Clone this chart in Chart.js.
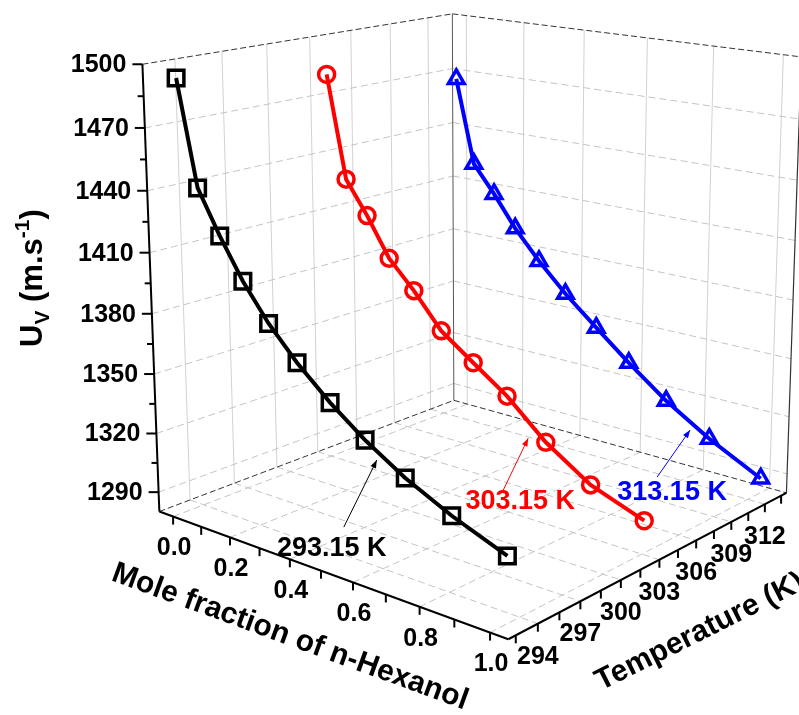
<!DOCTYPE html>
<html lang="en">
<head>
<meta charset="UTF-8">
<title>Ultrasonic velocity of n-Hexanol mixtures</title>
<script src="https://cdn.jsdelivr.net/npm/chart.js"></script>
<style>
  body { margin: 0; background: #fff; }
</style>
</head>
<body>
<canvas id="uvChart" width="799" height="715"></canvas>
<script>
// mole fraction of n-hexanol and ultrasonic velocity (m/s) at each temperature
const moleFraction = [0.000, 0.062, 0.133, 0.207, 0.289, 0.379, 0.482, 0.589, 0.709, 0.844, 1.000];
const temperatures = [293.15, 303.15, 313.15];
const uv293 = [1493.2, 1442.7, 1422.0, 1402.9, 1385.8, 1370.7, 1356.2, 1343.4, 1331.5, 1320.9, 1310.9];
const uv303 = [1481.9, 1429.9, 1413.3, 1393.7, 1380.0, 1362.8, 1350.7, 1338.3, 1320.5, 1305.7, 1296.0];
const uv313 = [1466.5, 1421.4, 1406.9, 1390.2, 1375.0, 1360.2, 1345.6, 1330.8, 1315.4, 1301.2, 1287.6];
const seriesLabels = ['293.15 K', '303.15 K', '313.15 K'];

const xTicks = [0.0, 0.2, 0.4, 0.6, 0.8, 1.0];
const tTicks = [294, 297, 300, 303, 306, 309, 312];
const zTicks = [1290, 1320, 1350, 1380, 1410, 1440, 1470, 1500];

const xRange = [-0.05, 1.05];
const tRange = [292, 314];
const zRange = [1280, 1500];

// box corners on the view plane: u, v, w (0..1 along x, T, z) -> view x, view y
const frame = [
  [0, 0, 0, 160, 512],
  [1, 0, 0, 508, 639],
  [1, 1, 0, 787, 493],
  [0, 1, 0, 453, 400],
  [0, 0, 1, 142, 64],
  [0, 1, 1, 453, 14],
  [1, 1, 1, 801, 57]
];

// least squares 3x4 perspective matrix from the corner pairs
function solveCamera(pts) {
  const n = 11;
  const M = [...Array(n)].map(() => Array(n + 1).fill(0));
  const add = (row, rhs) => {
    for (let i = 0; i < n; i++) {
      for (let j = 0; j < n; j++) M[i][j] += row[i] * row[j];
      M[i][n] += row[i] * rhs;
    }
  };
  pts.forEach(([X, Y, Z, sx, sy]) => {
    add([X, Y, Z, 1, 0, 0, 0, 0, -sx * X, -sx * Y, -sx * Z], sx);
    add([0, 0, 0, 0, X, Y, Z, 1, -sy * X, -sy * Y, -sy * Z], sy);
  });
  for (let c = 0; c < n; c++) {
    let p = c;
    for (let r = c + 1; r < n; r++) if (Math.abs(M[r][c]) > Math.abs(M[p][c])) p = r;
    [M[c], M[p]] = [M[p], M[c]];
    for (let r = 0; r < n; r++) {
      if (r === c) continue;
      const f = M[r][c] / M[c][c];
      for (let k = c; k <= n; k++) M[r][k] -= f * M[c][k];
    }
  }
  const p = M.map((row, i) => row[n] / row[i]);
  return [[p[0], p[1], p[2], p[3]], [p[4], p[5], p[6], p[7]], [p[8], p[9], p[10], 1]];
}
const cam = solveCamera(frame);

function project(x, T, z) {
  const h = [
    (x - xRange[0]) / (xRange[1] - xRange[0]),
    (T - tRange[0]) / (tRange[1] - tRange[0]),
    (z - zRange[0]) / (zRange[1] - zRange[0]), 1
  ];
  const r = cam.map(row => row[0] * h[0] + row[1] * h[1] + row[2] * h[2] + row[3] * h[3]);
  return { x: r[0] / r[2], y: r[1] / r[2] };
}

const seriesColors = ['#000000', '#ff0000', '#0000ff'];
const pointStyles = ['rect', 'circle', 'triangle'];
const pointSizes = [11, 8, 9];
const uvSeries = [uv293, uv303, uv313];

const datasets = temperatures.map((T, k) => ({
  label: seriesLabels[k],
  data: moleFraction.map((x, i) => project(x, T, uvSeries[k][i])),
  showLine: true,
  borderColor: seriesColors[k],
  borderWidth: 4,
  pointStyle: pointStyles[k],
  pointRadius: pointSizes[k],
  pointBorderWidth: 3.5,
  pointBorderColor: seriesColors[k],
  pointBackgroundColor: 'rgba(0,0,0,0)'
}));

// arrow tip sits in data space, tail and label are pixel offsets from it
const notes = [
  { T: 293.15, x: 0.624, z: 1335.7, tail: [-33, 67], text: [-45, 88] },
  { T: 303.15, x: 0.655, z: 1320.0, tail: [-25, 52], text: [-8, 63] },
  { T: 313.15, x: 0.785, z: 1303.1, tail: [-33, 47], text: [-18, 62] }
];

const FONT = '"Liberation Sans", Arial, sans-serif';

const boxPlugin = {
  id: 'box3d',
  beforeDatasetsDraw(chart) {
    const ctx = chart.ctx;
    const px = (x, T, z) => {
      const p = project(x, T, z);
      return [chart.scales.x.getPixelForValue(p.x), chart.scales.y.getPixelForValue(p.y)];
    };
    const seg = (a, b, color, width, dash) => {
      ctx.save();
      ctx.strokeStyle = color; ctx.lineWidth = width; ctx.setLineDash(dash || []);
      ctx.beginPath(); ctx.moveTo(a[0], a[1]); ctx.lineTo(b[0], b[1]); ctx.stroke();
      ctx.restore();
    };
    const [x0, x1] = xRange, [T0, T1] = tRange, [z0, z1] = zRange;
    const gridSolid = '#d2d2d2', gridDash = '#c4c4c4';

    // wall and floor grids
    tTicks.forEach(T => {
      seg(px(x0, T, z0), px(x0, T, z1), gridSolid, 1);
      seg(px(x0, T, z0), px(x1, T, z0), gridDash, 1, [7, 4]);
    });
    xTicks.forEach(x => {
      seg(px(x, T1, z0), px(x, T1, z1), gridSolid, 1);
      seg(px(x, T0, z0), px(x, T1, z0), gridDash, 1, [7, 4]);
    });
    zTicks.filter(z => z < z1).forEach(z => {
      seg(px(x0, T0, z), px(x0, T1, z), gridDash, 1, [7, 4]);
      seg(px(x0, T1, z), px(x1, T1, z), gridDash, 1, [7, 4]);
    });

    // box edges
    seg(px(x0, T0, z1), px(x0, T1, z1), '#333', 1, [6, 3]);
    seg(px(x0, T1, z1), px(x1, T1, z1), '#333', 1, [6, 3]);
    seg(px(x0, T0, z0), px(x0, T1, z0), '#333', 1, [6, 3]);
    seg(px(x0, T1, z0), px(x1, T1, z0), '#333', 1, [6, 3]);
    seg(px(x0, T1, z1), px(x0, T1, z0), '#555', 1);
    seg(px(x1, T1, z0), px(x1, T1, z1), '#333', 1.2);

    // axis lines
    seg(px(x0, T0, z0), px(x1, T0, z0), '#000', 2);
    seg(px(x1, T0, z0), px(x1, T1, z0), '#000', 2);
    seg(px(x0, T0, z0), px(x0, T0, z1), '#000', 2);

    ctx.save();
    ctx.fillStyle = '#000';
    ctx.font = 'bold 25px ' + FONT;

    // U axis ticks and labels
    for (let z = 1290; z <= z1 + 0.1; z += 15) {
      const p = px(x0, T0, z);
      const major = (z - 1290) % 30 === 0;
      seg(p, [p[0] - (major ? 10 : 6), p[1]], '#000', 2);
      if (major) {
        ctx.textAlign = 'right'; ctx.textBaseline = 'middle';
        ctx.fillText(String(z), p[0] - 16, p[1] + 1);
      }
    }
    // mole fraction ticks and labels
    for (let i = 0; i <= 10; i++) {
      const x = i / 10;
      const p = px(x, T0, z0);
      seg(p, [p[0], p[1] + 8], '#000', 2);
      if (i % 2 === 0) {
        ctx.textAlign = 'center'; ctx.textBaseline = 'middle';
        ctx.fillText(x.toFixed(1), p[0] + 1, p[1] + 32);
      }
    }
    // temperature ticks and labels
    for (let T = 292.5; T <= T1; T += 1.5) {
      const p = px(x1, T, z0);
      seg(p, [p[0], p[1] + 8], '#000', 2);
      if (tTicks.includes(T)) {
        ctx.textAlign = 'center'; ctx.textBaseline = 'middle';
        ctx.fillText(String(T), p[0], p[1] + 33);
      }
    }

    // axis titles
    const a = px(x0, T0, z0), b = px(x1, T0, z0), c = px(x1, T1, z0);
    ctx.font = 'bold 30px ' + FONT;
    ctx.textAlign = 'center'; ctx.textBaseline = 'middle';
    ctx.save();
    ctx.translate(290, 637);
    ctx.rotate(Math.atan2(b[1] - a[1], b[0] - a[0]));
    ctx.fillText('Mole fraction of n-Hexanol', 0, 0);
    ctx.restore();
    ctx.save();
    ctx.translate(700, 632);
    ctx.rotate(Math.atan2(c[1] - b[1], c[0] - b[0]) + 0.02);
    ctx.fillText('Temperature (K)', 0, 0);
    ctx.restore();

    // U_V (m.s^-1), reading upwards
    ctx.save();
    ctx.translate(42, 347);
    ctx.rotate(-Math.PI / 2);
    ctx.textAlign = 'left'; ctx.textBaseline = 'alphabetic';
    const big = 'bold 31px ' + FONT, small = 'bold 21px ' + FONT;
    let cx = 0;
    ctx.font = big; ctx.fillText('U', cx, 0); cx += ctx.measureText('U').width;
    ctx.font = small; ctx.fillText('V', cx, 7); cx += ctx.measureText('V').width;
    ctx.font = big; ctx.fillText(' (m.s', cx, 0); cx += ctx.measureText(' (m.s').width;
    ctx.font = small; ctx.fillText('-1', cx, -13); cx += ctx.measureText('-1').width;
    ctx.font = big; ctx.fillText(')', cx, 0);
    ctx.restore();

    ctx.restore();
  },
  afterDatasetsDraw(chart) {
    const ctx = chart.ctx;
    ctx.save();
    ctx.font = 'bold 27px ' + FONT;
    ctx.textAlign = 'center'; ctx.textBaseline = 'middle';
    notes.forEach((n, k) => {
      const p = project(n.x, n.T, n.z);
      const tip = [chart.scales.x.getPixelForValue(p.x), chart.scales.y.getPixelForValue(p.y)];
      const tail = [tip[0] + n.tail[0], tip[1] + n.tail[1]];
      ctx.strokeStyle = seriesColors[k]; ctx.fillStyle = seriesColors[k];
      ctx.lineWidth = 1;
      ctx.beginPath(); ctx.moveTo(tail[0], tail[1]); ctx.lineTo(tip[0], tip[1]); ctx.stroke();
      const ang = Math.atan2(tip[1] - tail[1], tip[0] - tail[0]);
      ctx.beginPath();
      ctx.moveTo(tip[0], tip[1]);
      ctx.lineTo(tip[0] - 8 * Math.cos(ang) + 3 * Math.sin(ang), tip[1] - 8 * Math.sin(ang) - 3 * Math.cos(ang));
      ctx.lineTo(tip[0] - 8 * Math.cos(ang) - 3 * Math.sin(ang), tip[1] - 8 * Math.sin(ang) + 3 * Math.cos(ang));
      ctx.closePath(); ctx.fill();
      ctx.fillText(seriesLabels[k], tip[0] + n.text[0], tip[1] + n.text[1]);
    });
    ctx.restore();
  }
};

new Chart(document.getElementById('uvChart'), {
  type: 'scatter',
  data: { datasets },
  options: {
    responsive: false,
    animation: false,
    layout: { padding: 0, autoPadding: false },
    plugins: { legend: { display: false }, tooltip: { enabled: false } },
    scales: {
      x: { type: 'linear', min: 0, max: 799, display: false },
      y: { type: 'linear', min: 0, max: 715, reverse: true, display: false }
    }
  },
  plugins: [boxPlugin]
});
</script>
</body>
</html>
